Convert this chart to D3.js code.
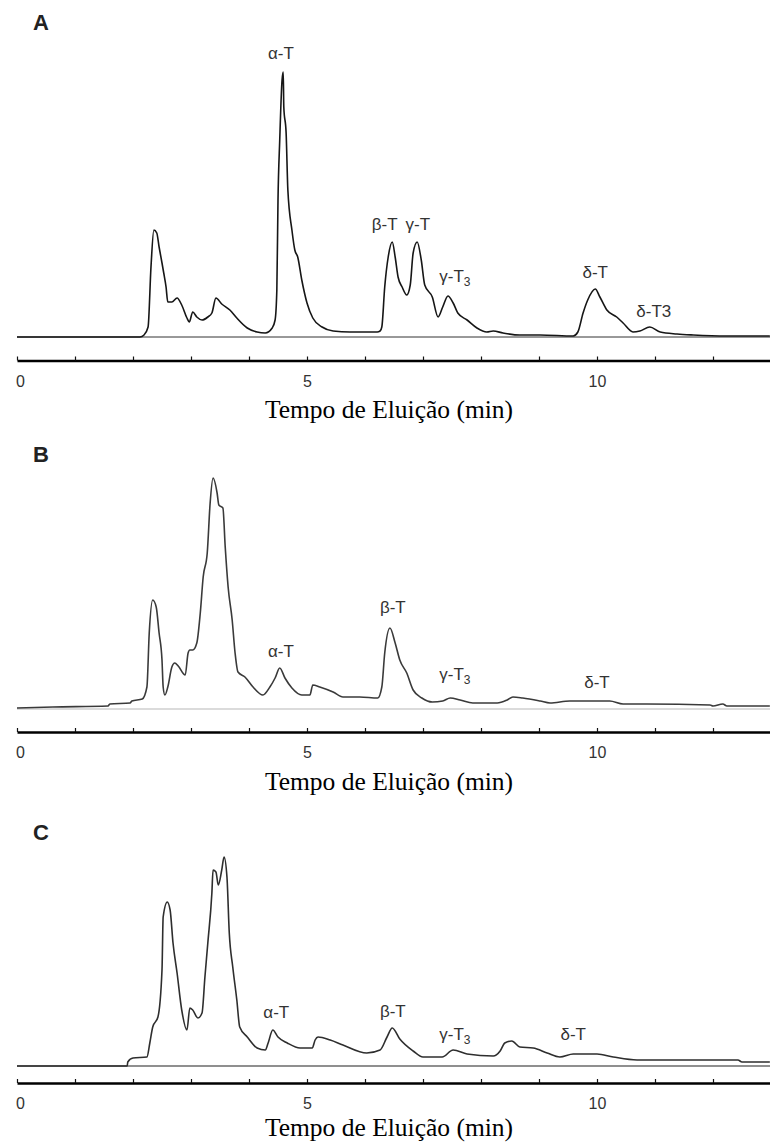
<!DOCTYPE html>
<html>
<head>
<meta charset="utf-8">
<script src="https://cdn.jsdelivr.net/npm/d3@7"></script>
<style>
  body { margin: 0; background: #fff; }
  svg { display: block; }
</style>
</head>
<body>
<script>
// Cromatogramas A, B, C — tempo (min) e sinal
const tempoA = [0, 2.12, 2.19, 2.26, 2.31, 2.36, 2.41, 2.45, 2.50, 2.53, 2.57, 2.60, 2.67, 2.76, 2.84, 2.93, 2.97, 3.03, 3.10, 3.19, 3.29, 3.36, 3.43, 3.53, 3.67, 3.79, 3.97, 4.14, 4.28, 4.40, 4.45, 4.48, 4.50, 4.53, 4.57, 4.59, 4.60, 4.64, 4.67, 4.74, 4.79, 4.84, 4.91, 5.00, 5.10, 5.26, 5.45, 5.74, 6.21, 6.26, 6.29, 6.34, 6.40, 6.47, 6.52, 6.57, 6.64, 6.72, 6.78, 6.83, 6.90, 6.97, 7.03, 7.16, 7.26, 7.34, 7.43, 7.52, 7.60, 7.76, 7.93, 8.10, 8.21, 8.38, 8.67, 9.02, 9.59, 9.67, 9.76, 9.84, 9.97, 10.05, 10.17, 10.34, 10.45, 10.62, 10.74, 10.91, 11.09, 11.38, 11.66, 12.24, 12.98];
const sinalA = [0, 0, 2, 10, 70, 107, 104, 90, 74, 64, 50, 35, 35, 39, 32, 19, 15, 25, 20, 17, 20, 24, 39, 33, 27, 19, 9, 5, 4, 9, 17, 47, 137, 197, 257, 265, 230, 204, 147, 107, 87, 80, 57, 34, 19, 10, 6, 5, 5, 6, 10, 50, 80, 95, 80, 60, 50, 42, 52, 84, 95, 77, 52, 40, 20, 30, 41, 34, 24, 17, 9, 5, 6, 4, 2, 2, 1, 5, 24, 37, 48, 40, 27, 20, 14, 5, 6, 10, 5, 3, 2, 1, 1];

const tempoB = [0, 0.62, 1.57, 1.60, 1.95, 1.98, 2.16, 2.24, 2.28, 2.34, 2.40, 2.45, 2.50, 2.52, 2.55, 2.60, 2.67, 2.72, 2.78, 2.90, 2.95, 2.98, 3.03, 3.10, 3.16, 3.21, 3.28, 3.33, 3.38, 3.45, 3.48, 3.55, 3.59, 3.64, 3.71, 3.76, 3.81, 3.93, 4.07, 4.24, 4.36, 4.45, 4.53, 4.62, 4.74, 4.91, 5.05, 5.10, 5.22, 5.45, 5.62, 5.91, 6.22, 6.29, 6.34, 6.43, 6.52, 6.60, 6.72, 6.83, 6.98, 7.16, 7.34, 7.47, 7.64, 7.86, 8.28, 8.45, 8.55, 8.72, 9.02, 9.19, 9.53, 9.93, 10.22, 10.45, 10.86, 11.95, 12.00, 12.17, 12.24, 12.98];
const sinalB = [1, 2, 3, 5, 6, 8, 10, 22, 76, 109, 102, 76, 49, 22, 14, 22, 42, 46, 43, 34, 56, 59, 59, 66, 96, 132, 156, 206, 231, 216, 204, 201, 162, 122, 89, 56, 37, 32, 22, 14, 22, 31, 41, 31, 21, 14, 14, 24, 22, 17, 12, 12, 11, 22, 56, 81, 66, 49, 36, 19, 11, 7, 8, 11, 9, 6, 6, 9, 12, 11, 8, 6, 8, 8, 8, 5, 5, 4, 3, 5, 3, 3];

const tempoC = [0, 1.90, 1.91, 2.00, 2.24, 2.29, 2.34, 2.43, 2.50, 2.52, 2.59, 2.64, 2.69, 2.76, 2.84, 2.93, 2.98, 3.03, 3.12, 3.19, 3.24, 3.29, 3.36, 3.38, 3.43, 3.47, 3.53, 3.57, 3.62, 3.66, 3.72, 3.79, 3.84, 3.97, 4.14, 4.28, 4.33, 4.41, 4.50, 4.66, 4.88, 5.09, 5.14, 5.19, 5.40, 5.62, 6.03, 6.26, 6.38, 6.47, 6.60, 6.83, 7.00, 7.33, 7.52, 7.76, 8.21, 8.33, 8.41, 8.53, 8.67, 8.90, 9.14, 9.36, 9.59, 10.00, 10.28, 10.69, 12.43, 12.50, 12.98];
const sinalC = [0, 0, 4, 8, 9, 23, 39, 49, 96, 149, 164, 156, 123, 93, 56, 36, 58, 56, 48, 53, 89, 123, 173, 196, 194, 181, 196, 209, 189, 133, 99, 66, 39, 29, 18, 16, 23, 36, 29, 23, 18, 18, 26, 29, 26, 21, 13, 16, 29, 38, 27, 15, 9, 9, 16, 12, 10, 15, 23, 25, 19, 18, 13, 9, 12, 12, 9, 6, 6, 4, 4];

// rótulos dos picos: texto, [tempo, sinal] do ponto de ancoragem
const picosA = ["α-T", "β-T", "γ-T", "γ-T3", "δ-T", "δ-T3"];
const ancorasA = [[4.55, 278], [6.34, 107], [6.91, 107], [7.55, 55], [9.97, 59], [10.98, 20]];
const picosB = ["α-T", "β-T", "γ-T3", "δ-T"];
const ancorasB = [[4.55, 52], [6.48, 96], [7.55, 29], [10.0, 21]];
const picosC = ["α-T", "β-T", "γ-T3", "δ-T"];
const ancorasC = [[4.47, 48], [6.48, 49], [7.55, 26], [9.59, 26]];

const ticksEixo = d3.range(0, 14);
const rotulosEixo = [0, 5, 10];
const tituloEixo = "Tempo de Eluição (min)";

const paineis = [
  { letra: "A", tempo: tempoA, sinal: sinalA, picos: picosA, ancoras: ancorasA,
    base: 337, eixo: 360.5, titulo: 418, rotulo: 30, corLinha: "#161616", corBase: "#333", larguraBase: 1 },
  { letra: "B", tempo: tempoB, sinal: sinalB, picos: picosB, ancoras: ancorasB,
    base: 709, eixo: 732, titulo: 790, rotulo: 462, corLinha: "#3a3a3a", corBase: "#cfcfcf", larguraBase: 1.5 },
  { letra: "C", tempo: tempoC, sinal: sinalC, picos: picosC, ancoras: ancorasC,
    base: 1066, eixo: 1083, titulo: 1136, rotulo: 840, corLinha: "#2e2e2e", corBase: "#6a6a6a", larguraBase: 1.6 }
];

const W = 770, H = 1144;
const svg = d3.select("body").append("svg").attr("width", W).attr("height", H);
const x = d3.scaleLinear().domain([0, 13]).range([17, 771]);

paineis.forEach(p => {
  const y = d3.scaleLinear().domain([0, 100]).range([p.base, p.base - 100]);
  const g = svg.append("g");

  // linha de base
  g.append("line")
    .attr("x1", x(0)).attr("x2", x(13))
    .attr("y1", y(0)).attr("y2", y(0))
    .attr("stroke", p.corBase).attr("stroke-width", p.larguraBase);

  // cromatograma
  const pontos = p.tempo.map((t, i) => [t, p.sinal[i]]);
  g.append("path")
    .datum(pontos)
    .attr("fill", "none")
    .attr("stroke", p.corLinha)
    .attr("stroke-width", 1.6)
    .attr("stroke-linejoin", "round")
    .attr("d", d3.line().curve(d3.curveMonotoneX).x(d => x(d[0])).y(d => y(d[1])));

  // eixo do tempo
  const eixo = g.append("g")
    .attr("transform", `translate(0,${p.eixo})`)
    .call(d3.axisBottom(x)
      .tickValues(ticksEixo)
      .tickSize(-4)
      .tickSizeOuter(0)
      .tickPadding(15)
      .tickFormat(d => rotulosEixo.includes(d) ? d : ""));
  eixo.select(".domain").attr("stroke", "#000").attr("stroke-width", 2.6);
  eixo.selectAll(".tick line").attr("stroke", "#111").attr("stroke-width", 1.2);
  eixo.selectAll(".tick text")
    .attr("fill", "#333")
    .attr("dx", d => d === 0 ? 3 : 0)
    .attr("font-family", "'Liberation Sans', Arial, sans-serif")
    .attr("font-size", "16px");

  // título do eixo
  g.append("text")
    .attr("x", 389).attr("y", p.titulo)
    .attr("text-anchor", "middle")
    .attr("font-family", "'Liberation Serif', 'Times New Roman', serif")
    .attr("font-size", "25.5px")
    .attr("fill", "#000")
    .text(tituloEixo);

  // letra do painel
  g.append("text")
    .attr("x", 33).attr("y", p.rotulo)
    .attr("font-family", "'Liberation Sans', Arial, sans-serif")
    .attr("font-weight", "bold")
    .attr("font-size", "22px")
    .attr("fill", "#222")
    .text(p.letra);

  // rótulos dos picos
  p.picos.forEach((nome, i) => {
    const [t, s] = p.ancoras[i];
    const txt = g.append("text")
      .attr("x", x(t)).attr("y", y(s))
      .attr("text-anchor", "middle")
      .attr("font-family", "'Liberation Sans', Arial, sans-serif")
      .attr("font-size", "17px")
      .attr("fill", "#333");
    if (nome === "γ-T3") {
      txt.append("tspan").text("γ-T");
      txt.append("tspan").attr("font-size", "12px").attr("dy", 4).text("3");
    } else {
      txt.text(nome);
    }
  });
});
</script>
</body>
</html>
